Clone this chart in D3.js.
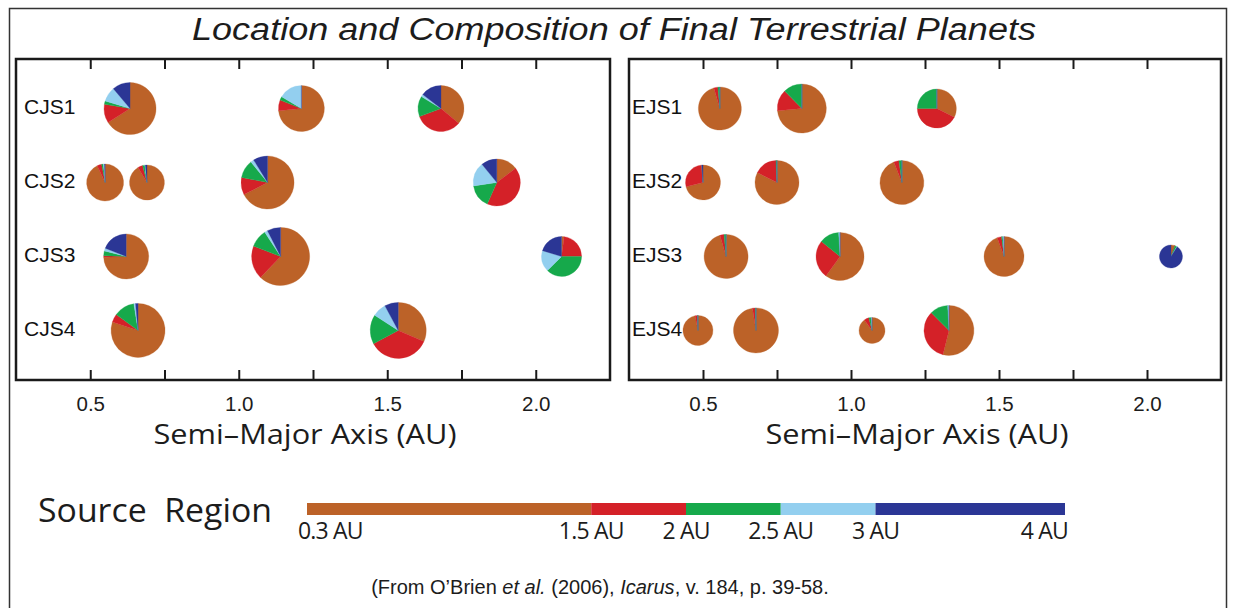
<!DOCTYPE html>
<html><head><meta charset="utf-8">
<script src="https://cdn.jsdelivr.net/npm/d3@7"></script>
<style>body{margin:0;background:#fff}svg{display:block}</style>
</head><body><svg id="c" width="1233" height="608"></svg>
<script>
// ---------- data ----------
const sourceRegions = ["0.3-1.5 AU","1.5-2 AU","2-2.5 AU","2.5-3 AU","3-4 AU"];
const sourceColors = ["#bc6228","#d42128","#16a94b","#93cfef","#2b3695"];
const legendBounds = [0.3, 1.5, 2, 2.5, 3, 4];
const legendLabels = ["0.3 AU","1.5 AU","2 AU","2.5 AU","3 AU","4 AU"];
const legendUnits = [0, 3, 4, 5, 6, 8];
const xTicks = [0.5, 0.75, 1.0, 1.25, 1.5, 1.75, 2.0];
const xLabelTicks = [0.5, 1.0, 1.5, 2.0];
const xTickLabels = ["0.5","1.0","1.5","2.0"];

const cjsRuns = ["CJS1","CJS2","CJS3","CJS4"];
const cjsRunIndex = [0,0,0, 1,1,1,1, 2,2,2, 3,3];
const cjsAxis = [0.634,1.211,1.681, 0.55,0.691,1.097,1.869, 0.621,1.141,2.087, 0.661,1.537];
const cjsMass = [1.00,0.69,0.69, 0.36,0.305,1.06,0.74, 0.65,1.39,0.455, 1.12,1.25];
const cjsComp = [
  [0.66,0.117,0.02,0.092,0.111],
  [0.735,0.075,0.025,0.165,0],
  [0.36,0.333,0.144,0.017,0.146],
  [0.93,0.04,0.015,0.01,0.005],
  [0.915,0.045,0.02,0.005,0.015],
  [0.675,0.106,0.111,0.02,0.088],
  [0.147,0.42,0.16,0.164,0.109],
  [0.745,0.01,0.035,0.02,0.19],
  [0.622,0.186,0.1,0.017,0.075],
  [0.02,0.23,0.375,0.172,0.203],
  [0.80,0.05,0.125,0.01,0.015],
  [0.315,0.357,0.169,0.08,0.079]
];

const ejsRuns = ["EJS1","EJS2","EJS3","EJS4"];
const ejsRunIndex = [0,0,0, 1,1,1, 2,2,2,2, 3,3,3,3];
const ejsAxis = [0.557,0.834,1.29, 0.5,0.75,1.172, 0.578,0.963,1.517,2.081, 0.483,0.679,1.071,1.331];
const ejsMass = [0.565,0.837,0.422, 0.305,0.606,0.606, 0.606,0.787,0.455,0.087, 0.192,0.648,0.125,0.889];
const ejsComp = [
  [0.955,0.03,0.015,0,0],
  [0.736,0.14,0.124,0,0],
  [0.324,0.426,0.25,0,0],
  [0.71,0.28,0,0,0.01],
  [0.825,0.167,0.008,0,0],
  [0.94,0.038,0.022,0,0],
  [0.955,0.03,0.015,0,0],
  [0.6,0.258,0.133,0.009,0],
  [0.945,0.035,0.01,0.01,0],
  [0.05,0.005,0.03,0.005,0.91],
  [0.97,0.025,0.005,0,0],
  [0.975,0.02,0.005,0,0],
  [0.9,0.06,0.03,0.01,0],
  [0.539,0.336,0.117,0.008,0]
];

const titleText = "Location and Composition of Final Terrestrial Planets";
const axisTitle = "Semi\u2013Major Axis (AU)";
const legendTitle = "Source  Region";

// ---------- drawing ----------
const svg = d3.select("#c");
const ink = "#1a1a1a";

// outer frame
svg.append("path").attr("d","M9.5,610V8.5H1226.5V610")
  .attr("fill","none").attr("stroke","#333").attr("stroke-width",1.5);

svg.append("text").attr("x",614).attr("y",40)
  .attr("text-anchor","middle")
  .attr("font-family","Liberation Sans, Arial, sans-serif")
  .attr("font-style","italic").attr("font-size",31)
  .attr("textLength",844).attr("lengthAdjust","spacingAndGlyphs")
  .attr("fill","#1c1c1c").text(titleText);

const color = d3.scaleOrdinal().domain(sourceRegions).range(sourceColors);
const rScale = d3.scalePow().exponent(1/3).domain([0,1]).range([0,26]);
const pie = d3.pie().sort(null).value(d => d);
const arc = d3.arc().innerRadius(0);

function panel(x0, x1, runs, runIndex, axisVals, masses, comps, labelX) {
  const top = 59, bottom = 380;
  const x = d3.scaleLinear().domain([0.25, 2.25]).range([x0, x1]);
  const y = d3.scaleLinear().domain([-0.67, 3.67]).range([top, bottom]);
  const g = svg.append("g");

  // planets
  axisVals.forEach((a, i) => {
    const r = rScale(masses[i]);
    const pg = g.append("g").attr("transform", `translate(${x(a)},${y(runIndex[i])})`);
    pg.selectAll("path").data(pie(comps[i]).map((d, k) => ({...d, k}))).join("path")
      .attr("d", d => arc.outerRadius(r)(d))
      .attr("fill", d => color(sourceRegions[d.k]))
      .attr("stroke", d => color(sourceRegions[d.k])).attr("stroke-width", 0.3);
  });

  // inward ticks, top and bottom
  const bAxis = g.append("g").attr("transform", `translate(0,${bottom})`)
    .call(d3.axisBottom(x).tickValues(xTicks).tickSize(-10).tickSizeOuter(0).tickFormat(""));
  const tAxis = g.append("g").attr("transform", `translate(0,${top})`)
    .call(d3.axisTop(x).tickValues(xTicks).tickSize(-10).tickSizeOuter(0).tickFormat(""));
  [bAxis, tAxis].forEach(ax => {
    ax.select(".domain").remove();
    ax.selectAll(".tick text").remove();
    ax.selectAll(".tick line").attr("stroke", ink).attr("stroke-width", 2);
  });
  // labels at the major ticks only
  const lAxis = g.append("g").attr("transform", `translate(0,${bottom})`)
    .call(d3.axisBottom(x).tickValues(xLabelTicks).tickSize(0).tickPadding(16)
      .tickFormat((v, i) => xTickLabels[i]));
  lAxis.select(".domain").remove();
  lAxis.selectAll(".tick text").attr("font-family","Liberation Sans, Arial, sans-serif")
    .attr("font-size",20.5).attr("fill","#1c1c1c");

  g.append("rect").attr("x", x0).attr("y", top).attr("width", x1 - x0).attr("height", bottom - top)
    .attr("fill","none").attr("stroke", ink).attr("stroke-width", 2.5);

  // run labels
  g.selectAll("text.run").data(runs).join("text").attr("class","run")
    .attr("x", labelX).attr("y", (d, i) => y(i) - 2)
    .attr("dominant-baseline","central")
    .attr("font-family","Liberation Sans, Arial, sans-serif")
    .attr("font-size",21).attr("letter-spacing",0).attr("fill","#111").text(d => d);

  g.append("text").attr("x", (x0 + x1) / 2 - 8).attr("y", 444)
    .attr("text-anchor","middle")
    .attr("font-family","Open Sans, Noto Sans, sans-serif")
    .attr("font-size",28).attr("textLength",303).attr("lengthAdjust","spacingAndGlyphs")
    .attr("fill","#1c1c1c").text(axisTitle);
}

panel(16, 610, cjsRuns, cjsRunIndex, cjsAxis, cjsMass, cjsComp, 24);
panel(629, 1221, ejsRuns, ejsRunIndex, ejsAxis, ejsMass, ejsComp, 632);

// legend
svg.append("text").attr("x",38).attr("y",522)
  .attr("font-family","Open Sans, Noto Sans, sans-serif")
  .attr("font-size",33).attr("fill","#1c1c1c").attr("xml:space","preserve")
  .attr("textLength",234).attr("lengthAdjust","spacingAndGlyphs")
  .style("white-space","pre").text(legendTitle);

const unitScale = d3.scaleLinear().domain([0, 8]).range([307, 1065]);
const lx = d3.scaleLinear().domain(legendBounds).range(legendUnits.map(u => unitScale(u)));
const segs = d3.range(sourceRegions.length);
svg.selectAll("rect.seg").data(segs).join("rect").attr("class","seg")
  .attr("x", i => lx(legendBounds[i])).attr("y", 503)
  .attr("width", i => lx(legendBounds[i+1]) - lx(legendBounds[i])).attr("height", 12)
  .attr("fill", i => color(sourceRegions[i]));
const last = legendLabels.length - 1;
svg.selectAll("text.lg").data(legendLabels).join("text").attr("class","lg")
  .attr("x", (d, i) => i === 0 ? lx(legendBounds[i]) - 9 : i === last ? lx(legendBounds[i]) + 3 : lx(legendBounds[i]))
  .attr("y", 539)
  .attr("text-anchor", (d, i) => i === 0 ? "start" : i === last ? "end" : "middle")
  .attr("font-family","Open Sans, Noto Sans, sans-serif")
  .attr("font-size",23).attr("letter-spacing",-0.8).attr("fill","#1c1c1c").text(d => d);

// footer
const foot = svg.append("text").attr("x",600).attr("y",594).attr("text-anchor","middle")
  .attr("font-family","Liberation Sans, Arial, sans-serif").attr("font-size",20).attr("fill","#1c1c1c");
foot.append("tspan").text("(From O\u2019Brien ");
foot.append("tspan").attr("font-style","italic").text("et al.");
foot.append("tspan").text(" (2006), ");
foot.append("tspan").attr("font-style","italic").text("Icarus");
foot.append("tspan").text(", v. 184, p. 39-58.");
</script>
</body></html>
